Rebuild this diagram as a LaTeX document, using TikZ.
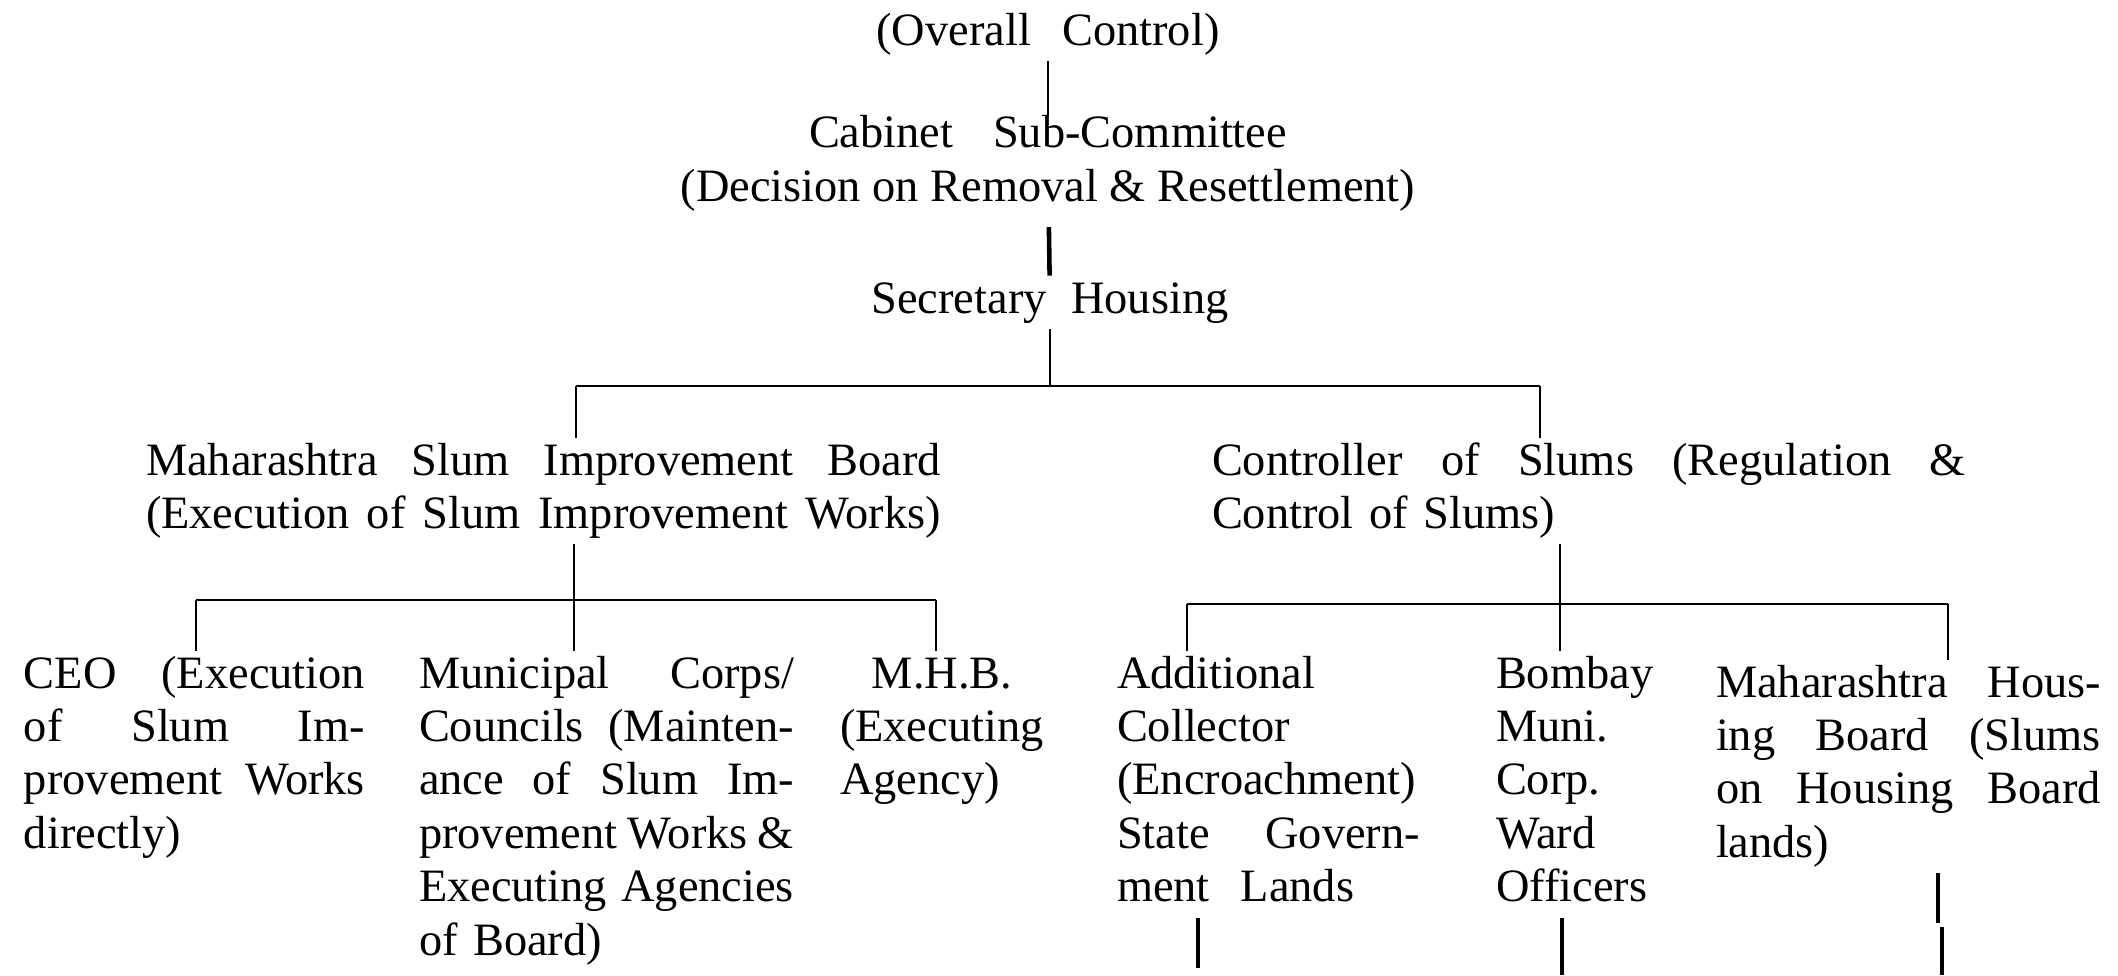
\documentclass[tikz,border=0pt]{standalone}
\usepackage{fontspec}
\setmainfont{Liberation Serif}
\usepackage{tikz}
\usetikzlibrary{calc}

\newcommand{\OrgFont}{\fontsize{13.2}{15.2}\selectfont}
% one justified line inside a block (ragged-right blocks fix the word space, so loosen it here)
\newcommand{\JLine}[1]{\makebox[\hsize][s]{\spaceskip=0.28em plus 1fil minus 0.12em\relax #1}}

\begin{document}
\begin{tikzpicture}[
        unit/.style = {inner sep=0pt, outer sep=0pt, font=\OrgFont,
                       execute at begin node=\strut, execute at end node=\strut},
        head/.style = {unit, align=center},
        block/.style = {unit, align=left, anchor=north west},
        link/.style = {line width=0.7pt},
        heavy/.style = {line width=1.3pt}
      ]
      \path[use as bounding box, fill=white] (0,0) rectangle (21.18,-9.75);

      % top of the chain
      \node[head, anchor=base](ovr) at (10.48,-0.45) {\makebox[3.43cm][s]{(Overall Control)}};
      \node[head, anchor=north](cab) at (10.48,-1.155)
            {\makebox[4.78cm][s]{Cabinet Sub-Committee}\\(Decision on Removal \& Resettlement)};
      \node[head, anchor=base](sec) at (10.50,-3.13) {\makebox[3.57cm][s]{Secretary Housing}};

      % second level
      \node[block, text width=7.95cm](msib) at (1.46,-4.376)
            {\JLine{Maharashtra Slum Improvement Board}\\
             \JLine{(Execution of Slum Improvement Works)}};
      \node[block, text width=7.54cm](csl) at (12.12,-4.376)
            {\JLine{Controller of Slums (Regulation \&}\\
             Control of Slums)};

      % third level, under the board
      \node[block, text width=3.41cm](ceo) at (0.24,-6.506)
            {\JLine{CEO (Execution}\\ \JLine{of Slum Im-}\\
             \JLine{provement Works}\\ directly)};
      \node[block, text width=3.75cm](mun) at (4.19,-6.506)
            {\JLine{Municipal Corps/}\\ \JLine{Councils (Mainten-}\\
             \JLine{ance of Slum Im-}\\ \JLine{provement Works \&}\\
             \JLine{Executing Agencies}\\ of Board)};
      \node[block, text width=2.04cm](mhb) at (8.40,-6.506)
            {\makebox[\hsize]{M.H.B.}\\ (Executing\\ Agency)};

      % third level, under the controller
      \node[block, text width=3.03cm](addl) at (11.17,-6.506)
            {Additional\\ Collector\\ \JLine{(Encroachment)}\\
             \JLine{State Govern-}\\ ment~ Lands};
      \node[block, text width=1.6cm](bmc) at (14.96,-6.506)
            {Bombay\\ Muni.\\ Corp.\\ Ward\\ Officers};
      \node[block, text width=3.85cm](mhbd) at (17.16,-6.596)
            {\JLine{Maharashtra Hous-}\\ \JLine{ing Board (Slums}\\
             \JLine{on Housing Board}\\ lands)};

      % bus coordinates
      \coordinate (jl) at (5.76,-3.86);
      \coordinate (jr) at (15.40,-3.86);
      \coordinate (lj) at (5.74,-6.00);
      \coordinate (la) at (1.96,-6.00);
      \coordinate (lb) at (9.36,-6.00);
      \coordinate (rj) at (15.60,-6.04);
      \coordinate (ra) at (11.87,-6.04);
      \coordinate (rc) at (19.48,-6.04);
      \coordinate (ea) at (11.98,-9.68);
      \coordinate (eb) at (15.62,-9.75);
      \coordinate (ec) at (19.38,-9.23);
      \coordinate (ed) at (19.42,-9.27);
      \coordinate (ee) at (19.42,-9.75);

      \draw[link] (ovr) -- (cab);
      \draw[heavy, shorten <=0.1cm] (cab) -- (sec);
      \draw[link] (sec.south) -- (sec.south |- jl);
      \draw[link] (jl) -- (jr);
      \draw[link] (jl) -- (jl |- msib.north);
      \draw[link] (jr) -- (jr |- csl.north);

      \draw[link] (lj |- msib.south) -- (lj);
      \draw[link] (la) -- (lb);
      \draw[link] (la) -- (la |- ceo.north);
      \draw[link] (lj) -- (lj |- mun.north);
      \draw[link] (lb) -- (lb |- mhb.north);

      \draw[link] (rj |- csl.south) -- (rj);
      \draw[link] (ra) -- (rc);
      \draw[link] (ra) -- (ra |- addl.north);
      \draw[link] (rj) -- (rj |- bmc.north);
      \draw[link] (rc) -- (rc |- mhbd.north);

      \draw[heavy] (ea |- addl.south) -- (ea);
      \draw[heavy] (eb |- bmc.south) -- (eb);
      \draw[heavy] (ec |- mhbd.south) -- (ec);
      \draw[heavy] (ed) -- (ee);
    \end{tikzpicture}
\end{document}
